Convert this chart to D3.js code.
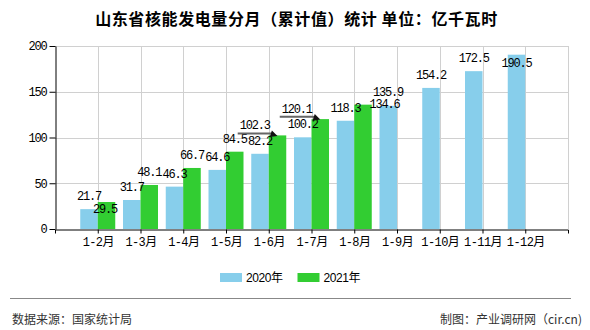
<!DOCTYPE html>
<html>
<head>
<meta charset="utf-8">
<script src="https://cdn.jsdelivr.net/npm/d3@7/dist/d3.min.js"></script>
<style>
  html, body { margin: 0; padding: 0; background: #fff; }
  svg { display: block; }
</style>
</head>
<body>
<svg id="chart" width="590" height="330"></svg>
<script>
// ---- data ----
const categories = ["1-2月","1-3月","1-4月","1-5月","1-6月","1-7月","1-8月","1-9月","1-10月","1-11月","1-12月"];
const values2020 = [21.7, 31.7, 46.3, 64.6, 82.2, 100.2, 118.3, 134.6, 154.2, 172.5, 190.5];
const values2021 = [29.5, 48.1, 66.7, 84.5, 102.3, 120.1, 135.9, null, null, null, null];
const seriesNames = ["2020年", "2021年"];
const yTicks = [0, 50, 100, 150, 200];
const titleText = "山东省核能发电量分月（累计值）统计 单位：亿千瓦时";
const sourceText = "数据来源：国家统计局";
const creditText = "制图：产业调研网（cir.cn)";

// label placement nudges (as in the reference's label layout)
const nudge2020 = [[0,0],[0,0],[0,0],[0,0],[0,0],[0,0],[0,0],[-3.75,11.5],[0,0],[0,0],[0,21]];
const nudge2021 = [[-1.5,20],[0,0],[0,0],[0,0],[-22.8,3],[-23.5,2.6],[25,0]];
const leader2021 = [false,false,false,false,true,true,false];

// ---- layout ----
const colors = ["#87CEEB", "#32CD32"];
const pL = 55, pR = 568, pT = 46, pB = 229;
const barW = 17.5;
const monoFont = "'Liberation Mono','DejaVu Sans Mono',monospace";
const cjkFont = "'Noto Sans CJK SC','Liberation Sans',sans-serif";

const svg = d3.select("#chart");

const x = d3.scalePoint().domain(categories).range([pL, pR]).padding(1);
const y = d3.scaleLinear().domain([0, 200]).range([pB, pT]);

// title
svg.append("text")
  .attr("x", 296.5).attr("y", 25)
  .attr("text-anchor", "middle")
  .attr("font-family", cjkFont)
  .attr("font-size", 16)
  .attr("font-weight", "bold")
  .attr("letter-spacing", 0.6)
  .attr("fill", "#000")
  .text(titleText);

// grid
const grid = svg.append("g").attr("stroke", "#d0d0d0").attr("stroke-width", 1);
yTicks.filter(t => t > 0).forEach(t => {
  grid.append("line").attr("x1", pL).attr("x2", pR)
    .attr("y1", Math.round(y(t)) + 0.5).attr("y2", Math.round(y(t)) + 0.5);
});
categories.forEach(c => {
  const gx = Math.round(x(c)) + 0.5;
  grid.append("line").attr("x1", gx).attr("x2", gx).attr("y1", pT).attr("y2", pB);
});
grid.append("line").attr("x1", pR + 0.5).attr("x2", pR + 0.5).attr("y1", pT).attr("y2", pB);

// bars
const bars = svg.append("g");
categories.forEach((c, i) => {
  const gx = x(c);
  if (values2020[i] != null) {
    bars.append("rect").attr("x", gx - barW).attr("width", barW)
      .attr("y", y(values2020[i])).attr("height", y(0) - y(values2020[i]))
      .attr("fill", colors[0]);
  }
  if (values2021[i] != null) {
    bars.append("rect").attr("x", gx).attr("width", barW)
      .attr("y", y(values2021[i])).attr("height", y(0) - y(values2021[i]))
      .attr("fill", colors[1]);
  }
});

// axes
const yAxis = svg.append("g")
  .attr("transform", `translate(${pL + 0.5},0)`)
  .call(d3.axisLeft(y).tickValues(yTicks).tickSize(6).tickSizeOuter(0).tickPadding(3));
yAxis.selectAll("path,line").attr("stroke", "#000");
yAxis.selectAll("text").attr("font-family", monoFont).attr("font-size", 12)
  .attr("letter-spacing", -1.2).attr("fill", "#000");

const xAxis = svg.append("g")
  .attr("transform", `translate(0,${pB + 0.5})`)
  .call(d3.axisBottom(x).tickSize(4).tickSizeOuter(4).tickPadding(4));
xAxis.selectAll("path,line").attr("stroke", "#000");
xAxis.selectAll("text").attr("font-family", monoFont + ",'Noto Sans CJK SC'")
  .attr("font-size", 12).attr("letter-spacing", -0.6).attr("fill", "#000");

// labels
const labels = svg.append("g")
  .attr("font-family", monoFont).attr("font-size", 12)
  .attr("letter-spacing", -1.2).attr("fill", "#000").attr("text-anchor", "middle");

categories.forEach((c, i) => {
  const gx = x(c);
  const v = values2020[i];
  if (v != null) {
    const [dx, dy] = nudge2020[i];
    labels.append("text").attr("x", gx - barW / 2 + dx).attr("y", y(v) - 9 + dy).text(v.toFixed(1));
  }
  const w = values2021[i];
  if (w != null) {
    const [dx, dy] = nudge2021[i];
    const lx = gx + barW / 2 + dx, ly = y(w) - 9 + dy;
    labels.append("text").attr("x", lx).attr("y", ly).text(w.toFixed(1));
    if (leader2021[i]) {
      const tipX = gx + barW / 2, tipY = y(w) + 0.5;
      const lineY = ly + 4;
      const sx = lx + 15;
      svg.append("path")
        .attr("d", `M${lx - 17},${lineY}H${sx}L${tipX - 4},${tipY - 2.5}`)
        .attr("fill", "none").attr("stroke", "#666").attr("stroke-width", 2);
      const ang = Math.atan2(tipY - lineY, tipX - sx);
      const L = 7, Wd = 3.5;
      const bx = tipX - L * Math.cos(ang), by = tipY - L * Math.sin(ang);
      const px = -Math.sin(ang) * Wd, py = Math.cos(ang) * Wd;
      svg.append("path")
        .attr("d", `M${tipX},${tipY}L${bx + px},${by + py}L${bx - px},${by - py}Z`)
        .attr("fill", "#111");
    }
  }
});

// legend
const legend = svg.append("g");
const legendItems = [{x: 220, name: seriesNames[0], color: colors[0]}, {x: 297.5, name: seriesNames[1], color: colors[1]}];
legendItems.forEach(d => {
  legend.append("rect").attr("x", d.x).attr("y", 273).attr("width", 22).attr("height", 9).attr("fill", d.color);
  legend.append("text").attr("x", d.x + 26).attr("y", 282)
    .attr("font-family", "'Liberation Sans','Noto Sans CJK SC',sans-serif")
    .attr("font-size", 12).attr("letter-spacing", -0.4).attr("fill", "#000").text(d.name);
});

// footer
svg.append("line").attr("x1", 10).attr("x2", 571).attr("y1", 298.5).attr("y2", 298.5)
  .attr("stroke", "#888").attr("stroke-width", 1);
svg.append("text").attr("x", 12).attr("y", 324)
  .attr("font-family", cjkFont).attr("font-size", 12).attr("fill", "#333").text(sourceText);
svg.append("text").attr("x", 582).attr("y", 324).attr("text-anchor", "end")
  .attr("font-family", cjkFont).attr("font-size", 12).attr("fill", "#333").text(creditText);
</script>
</body>
</html>
